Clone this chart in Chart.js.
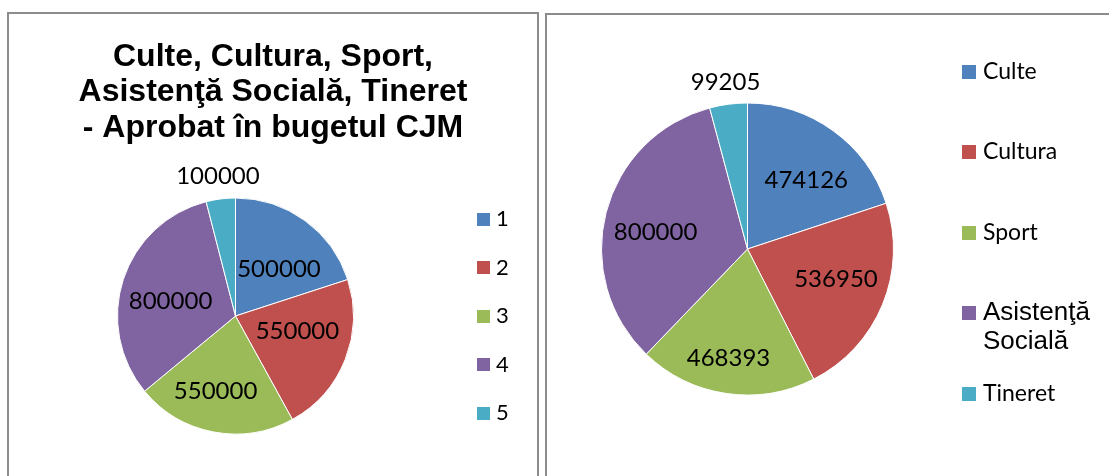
<!DOCTYPE html>
<html>
<head>
<meta charset="utf-8">
<script src="https://cdn.jsdelivr.net/npm/chart.js@4.4.1/dist/chart.umd.min.js"></script>
<style>
  html, body { margin: 0; padding: 0; background: #ffffff; width: 1109px; height: 476px; overflow: hidden; }
  .box { position: absolute; border: 2px solid #8c8c8c; background: #ffffff; }
  #boxL { left: 7px; top: 12px; width: 528px; height: 520px; }
  #boxR { left: 545px; top: 13px; width: 600px; height: 520px; }
  canvas { position: absolute; left: 0; top: 0; }
</style>
</head>
<body>
<div class="box" id="boxL"><canvas id="chartL" width="528" height="500"></canvas></div>
<div class="box" id="boxR"><canvas id="chartR" width="562" height="500"></canvas></div>
<script>
// ---------- data ----------
const leftTitle = ['Culte, Cultura, Sport,', 'Asistenţă Socială, Tineret', '- Aprobat în bugetul CJM'];
const leftCategories = ['1', '2', '3', '4', '5'];
const leftValues = [500000, 550000, 550000, 800000, 100000];

const rightCategories = ['Culte', 'Cultura', 'Sport', 'Asistenţă Socială', 'Tineret'];
const rightValues = [474126, 536950, 468393, 800000, 99205];

// ---------- styles ----------
const sliceColors = ['#4F81BD', '#C0504D', '#9BBB59', '#8064A2', '#4BACC6'];

// data labels drawn at each arc's own geometry
const sliceLabels = {
  id: 'sliceLabels',
  afterDatasetsDraw(chart, args, opts) {
    const meta = chart.getDatasetMeta(0);
    const ds = chart.data.datasets[0];
    const ctx = chart.ctx;
    ctx.save();
    ctx.font = opts.font;
    ctx.fillStyle = opts.color;
    ctx.textAlign = 'center';
    ctx.textBaseline = 'middle';
    meta.data.forEach((arc, i) => {
      const p = arc.getProps(['x', 'y', 'startAngle', 'endAngle', 'outerRadius'], true);
      const a = (p.startAngle + p.endAngle) / 2 + (opts.angleShift[i] || 0) * Math.PI / 180;
      const r = p.outerRadius * opts.radius[i];
      ctx.fillText(String(ds.data[i]), p.x + Math.cos(a) * r, p.y + Math.sin(a) * r);
    });
    ctx.restore();
  }
};

// side legend implemented as a layout box (takes space on the right like a legend)
function makeSideLegend(cfg) {
  return {
    id: 'sideLegend',
    beforeInit(chart) {
      const box = {
        position: 'right', weight: 10, fullSize: false, options: {},
        left: 0, top: 0, right: 0, bottom: 0, width: 0, height: 0,
        isHorizontal() { return false; },
        update(maxWidth, maxHeight) { this.width = cfg.width; this.height = maxHeight; },
        draw() {
          const ctx = chart.ctx;
          const labels = chart.data.labels;
          const cy = (chart.chartArea.top + chart.chartArea.bottom) / 2;
          ctx.save();
          labels.forEach((lab, i) => {
            const y = cy + cfg.yOffsets[i];
            ctx.fillStyle = sliceColors[i];
            ctx.fillRect(this.left + cfg.boxX, Math.round(y - cfg.boxSize / 2), cfg.boxSize, cfg.boxSize);
            const font = (cfg.fonts && cfg.fonts[i]) || cfg.font;
            ctx.font = font;
            ctx.fillStyle = '#000000';
            ctx.textAlign = 'left';
            ctx.textBaseline = 'middle';
            const maxW = this.width - cfg.textX - 2;
            const words = String(lab).split(' ');
            const lines = [];
            let cur = '';
            words.forEach(w => {
              const t = cur ? cur + ' ' + w : w;
              if (cur && ctx.measureText(t).width > maxW) { lines.push(cur); cur = w; } else { cur = t; }
            });
            if (cur) lines.push(cur);
            lines.forEach((ln, k) => ctx.fillText(ln, this.left + cfg.textX, y + k * cfg.lineHeight));
          });
          ctx.restore();
        }
      };
      Chart.layouts.addBox(chart, box);
    }
  };
}

// ---------- left chart ----------
new Chart(document.getElementById('chartL'), {
  type: 'pie',
  data: {
    labels: leftCategories,
    datasets: [{ data: leftValues, backgroundColor: sliceColors, borderColor: '#ffffff', borderWidth: 1 }]
  },
  options: {
    responsive: false,
    animation: false,
    radius: 118,
    layout: { padding: { top: 0, left: 0, right: 0, bottom: 34.5 } },
    plugins: {
      legend: { display: false },
      tooltip: { enabled: false },
      title: {
        display: true,
        text: leftTitle,
        color: '#000000',
        font: { family: '"Liberation Sans", Arial, sans-serif', size: 32, weight: 'bold', lineHeight: 35.5 / 32 },
        padding: { top: 25.25, bottom: 6.75 }
      },
      sliceLabels: {
        font: '24px Lato', color: '#000000',
        radius: [0.54, 0.54, 0.66, 0.565, 1.19],
        angleShift: [7, -8, 4, -5, 0]
      }
    }
  },
  plugins: [sliceLabels, makeSideLegend({
    width: 75, boxX: 15, boxSize: 13, textX: 34, lineHeight: 24,
    font: '22px Lato',
    yOffsets: [-97, -48.5, 0, 48.5, 97]
  })]
});

// ---------- right chart ----------
new Chart(document.getElementById('chartR'), {
  type: 'pie',
  data: {
    labels: rightCategories,
    datasets: [{ data: rightValues, backgroundColor: sliceColors, borderColor: '#ffffff', borderWidth: 1 }]
  },
  options: {
    responsive: false,
    animation: false,
    radius: 146,
    layout: { padding: { top: 0, left: 0, right: 0, bottom: 32 } },
    plugins: {
      legend: { display: false },
      tooltip: { enabled: false },
      title: { display: false },
      sliceLabels: {
        font: '24px Lato', color: '#000000',
        radius: [0.62, 0.64, 0.76, 0.64, 1.15],
        angleShift: [4.6, -3.6, 1.4, -4, 0]
      }
    }
  },
  plugins: [sliceLabels, makeSideLegend({
    width: 161, boxX: 14, boxSize: 14, textX: 35, lineHeight: 28.7,
    font: '23px Lato',
    fonts: [null, null, null, '26px "Liberation Sans"', null],
    yOffsets: [-177.3, -97, -16.3, 64, 145]
  })]
});
</script>
</body>
</html>
